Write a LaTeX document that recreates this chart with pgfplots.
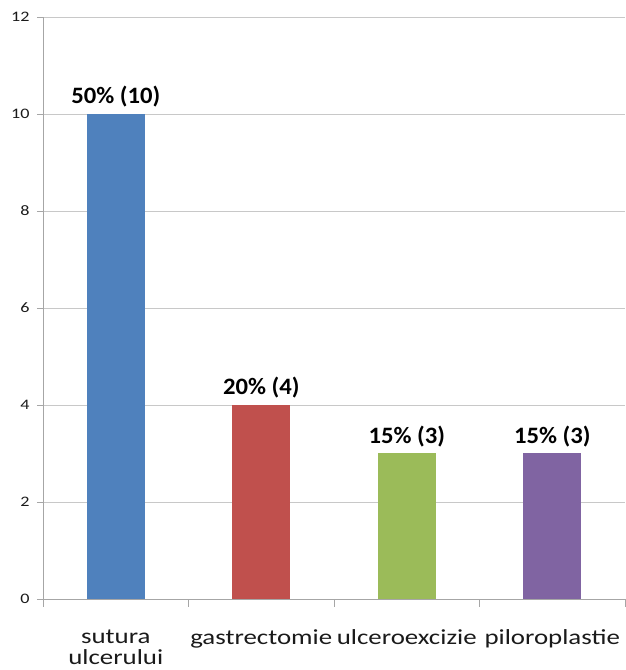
\documentclass[border=0pt]{standalone}
\usepackage{fontspec}
\setmainfont[FakeStretch=1.25]{Carlito}
\newfontfamily\barfont[FakeStretch=1.05]{Carlito}
\usepackage{pgfplots}
\pgfplotsset{compat=1.18}
\definecolor{c1}{HTML}{4F81BD}
\definecolor{c2}{HTML}{C0504D}
\definecolor{c3}{HTML}{9BBB59}
\definecolor{c4}{HTML}{8064A2}
\definecolor{axisgray}{HTML}{A6A6A6}
\definecolor{gridgray}{HTML}{C8C8C8}
\definecolor{txt}{HTML}{1A1A1A}
\begin{document}
\begin{tikzpicture}[x=1pt,y=1pt]
\useasboundingbox (0,0) rectangle (625,670);
\begin{axis}[
  at={(43pt,71pt)}, anchor=south west,
  scale only axis, width=582pt, height=582pt,
  ybar, bar width=58pt,
  xmin=-0.5, xmax=3.5, ymin=0, ymax=12,
  ytick={0,2,...,12},
  xtick={0,1,2,3},
  xticklabels={{sutura\\ulcerului},gastrectomie,ulceroexcizie,piloroplastie},
  minor xtick={-0.5,0.5,1.5,2.5,3.5},
  axis x line=bottom, axis y line=left,
  axis line style={draw=axisgray,-},
  ymajorgrids, grid style={draw=gridgray},
  tick align=outside,
  major tick length=6pt, minor tick length=8pt,
  major x tick style={draw=none},
  minor x tick style={draw=axisgray},
  ytick style={draw=axisgray},
  /pgf/number format/assume math mode=true,
  yticklabel style={font=\fontsize{14.5}{16}\selectfont, text=txt, xshift=-4pt},
  xticklabel style={font=\fontsize{21.5}{21}\selectfont, text=txt, align=center, yshift=-21pt},
  nodes near coords,
  point meta=explicit symbolic,
  nodes near coords style={font=\barfont\bfseries\fontsize{23.5}{26}\selectfont, text=black, yshift=3pt},
]
\addplot[fill=c1, draw=none, bar shift=0pt] coordinates {(0,10) [50\% (10)]};
\addplot[fill=c2, draw=none, bar shift=0pt] coordinates {(1,4) [20\% (4)]};
\addplot[fill=c3, draw=none, bar shift=0pt] coordinates {(2,3) [15\% (3)]};
\addplot[fill=c4, draw=none, bar shift=0pt] coordinates {(3,3) [15\% (3)]};
\end{axis}
\end{tikzpicture}
\end{document}
